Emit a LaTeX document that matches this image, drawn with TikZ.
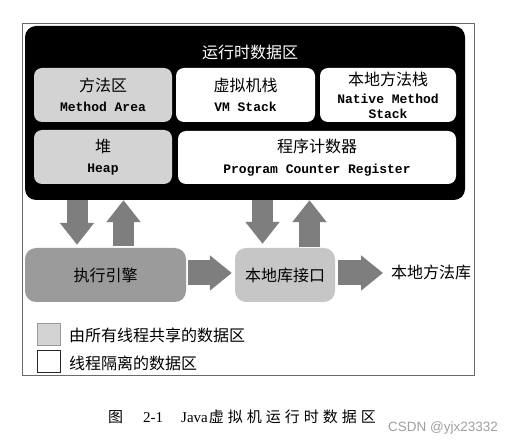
\documentclass[tikz,border=0pt]{standalone}
\usepackage{fontspec}
\setmainfont{Liberation Serif}
\newfontfamily\cjk{Noto Sans CJK SC}
\newfontfamily\monof{Liberation Mono}
\newfontfamily\wmf{Liberation Sans}
\usetikzlibrary{arrows.meta}
\definecolor{arrowgray}{HTML}{7E7E7E}
\definecolor{sharedgray}{HTML}{D3D3D3}
\definecolor{enginegray}{HTML}{9B9B9B}
\definecolor{nifgray}{HTML}{C6C6C6}
\definecolor{framegray}{HTML}{6A6A6A}
\definecolor{wmgray}{HTML}{A0A0A0}
\newcommand\gapc{\hspace{4pt}}
\newcommand\zhbox[1]{{\cjk\mdseries\fontsize{16}{20}\selectfont #1}}
\begin{document}
\begin{tikzpicture}[x=1pt,y=-1pt,
  region/.style={rounded corners=8pt, inner sep=0pt, align=center, text=black,
    font=\monof\bfseries\fontsize{13}{20}\selectfont},
  shared/.style={region, fill=sharedgray},
  private/.style={region, fill=white},
  zh/.style={font=\cjk\fontsize{16}{20}\selectfont},
  vblk/.style={draw=arrowgray, line width=21pt, -{Triangle[length=22pt,width=33pt]}},
  hblk/.style={draw=arrowgray, line width=25pt, -{Triangle[length=22pt,width=34pt]}},
  legbox/.style={minimum width=23pt, minimum height=22pt, inner sep=0pt}
]
\useasboundingbox (0,0) rectangle (514,446);
\fill[white] (0,0) rectangle (514,446);

% outer frame
\node[draw=framegray, line width=0.8pt, minimum width=452pt, minimum height=352pt, inner sep=0pt] (frame) at (248,199) {};

% runtime data area
\node[fill=black, rounded corners=11pt, minimum width=440pt, minimum height=174pt, inner sep=0pt] (rt) at (245,113) {};
\node[zh, text=white] (rtt) at (250,52) {运行时数据区};

\node[shared, minimum width=138pt, minimum height=54pt] (ma) at (103,95)
  {\zhbox{方法区}\\Method Area};
\node[private, minimum width=139pt, minimum height=54pt] (vm) at (245.5,95)
  {\zhbox{虚拟机栈}\\VM Stack};
\node[private, minimum width=136pt, minimum height=54pt] (ns) at (388,95)
  {\zhbox{本地方法栈}\\[-2pt]Native Method\\[-5pt]Stack};
\node[shared, minimum width=138pt, minimum height=54pt] (hp) at (103,157)
  {\zhbox{堆}\\Heap};
\node[private, minimum width=278pt, minimum height=53pt] (pc) at (317,157.5)
  {\zhbox{程序计数器}\\[1pt]Program Counter Register};

% execution engine and native interface
\node[zh, fill=enginegray, rounded corners=11pt, minimum width=161pt, minimum height=54pt, inner sep=0pt] (eng) at (105.5,275) {执行引擎};
\node[zh, fill=nifgray, rounded corners=11pt, minimum width=100pt, minimum height=54pt, inner sep=0pt] (nif) at (285,275) {本地库接口};
\node[zh, anchor=west, inner sep=0pt] (lib) at (391,272) {本地方法库};

% arrows
\coordinate (xd1) at (77,0);
\coordinate (xu1) at (123.5,0);
\coordinate (xd2) at (262.5,0);
\coordinate (xu2) at (309.5,0);
\draw[vblk, shorten >=3pt] (rt.south -| xd1) -- (eng.north -| xd1);
\draw[vblk, shorten <=2pt] (eng.north -| xu1) -- (rt.south -| xu1);
\draw[vblk, shorten >=4pt] (rt.south -| xd2) -- (nif.north -| xd2);
\draw[vblk, shorten <=1pt] (nif.north -| xu2) -- (rt.south -| xu2);
\draw[hblk, shorten <=2pt, shorten >=3pt] ([yshift=2pt]eng.east) -- ([yshift=2pt]nif.west);
\draw[hblk, shorten <=3pt, shorten >=8pt] ([yshift=2pt]nif.east) -- ([yshift=2pt]nif.east -| lib.west);

% legend
\node[legbox, draw=gray!80, fill=sharedgray] (lg1) at (48.5,334) {};
\node[zh, anchor=west, inner sep=0pt] (lt1) at (69,335) {由所有线程共享的数据区};
\node[legbox, draw=black!85, fill=white] (lg2) at (48.5,361.5) {};
\node[zh, anchor=west, inner sep=0pt] (lt2) at (69,363) {线程隔离的数据区};

% caption
\node[anchor=west, inner sep=0pt, font=\fontsize{15}{18}\selectfont] (cap) at (108,417)
  {{\cjk 图}\hspace{20pt}2-1\hspace{18pt}Java{\cjk \hspace{1pt}虚\gapc 拟\gapc 机\gapc 运\gapc 行\gapc 时\gapc 数\gapc 据\gapc 区}};
\node[anchor=west, inner sep=0pt, text=wmgray, font=\wmf\fontsize{13.5}{16}\selectfont] (wm) at (388,428) {CSDN @yjx23332};
\end{tikzpicture}
\end{document}
